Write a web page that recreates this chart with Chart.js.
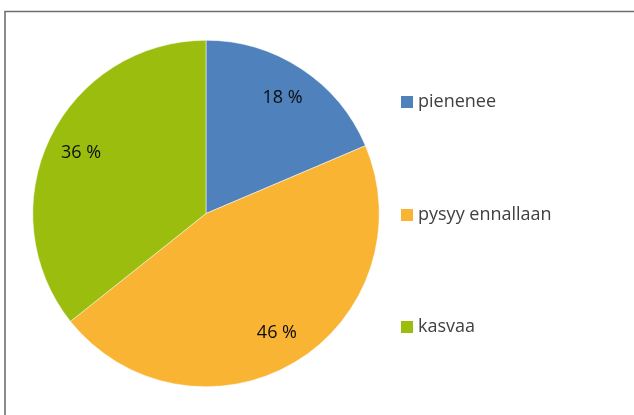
<!DOCTYPE html>
<html>
<head>
<meta charset="utf-8">
<script src="https://cdn.jsdelivr.net/npm/chart.js@4/dist/chart.umd.min.js"></script>
<style>
html,body{margin:0;padding:0;background:#fff;}
#wrap{position:relative;width:634px;height:415px;}
</style>
</head>
<body>
<div id="wrap"><canvas id="c" width="634" height="415"></canvas></div>
<script>
const categories = ['pienenee', 'pysyy ennallaan', 'kasvaa'];
const values = [18.6, 45.7, 35.7];
// data labels as printed on the chart
const valueLabels = ['18 %', '46 %', '36 %'];
const colors = ['#4F81BD', '#F9B434', '#9BBE0E'];

const FONT = '"Open Sans", "DejaVu Sans", sans-serif';

const decor = {
  id: 'decor',
  beforeDraw(chart) {
    const ctx = chart.ctx;
    ctx.save();
    ctx.strokeStyle = '#6e6e6e';
    ctx.lineWidth = 1.6;
    ctx.beginPath();
    ctx.moveTo(5, 415);
    ctx.lineTo(5, 11.5);
    ctx.lineTo(634, 11.5);
    ctx.stroke();
    ctx.restore();
  },
  afterDraw(chart) {
    const ctx = chart.ctx;
    const meta = chart.getDatasetMeta(0);
    ctx.save();
    ctx.font = '18px ' + FONT;
    ctx.fillStyle = '#0d0d0d';
    ctx.textAlign = 'center';
    ctx.textBaseline = 'middle';
    meta.data.forEach((arc, i) => {
      const p = arc.getProps(['x','y','startAngle','endAngle','outerRadius'], true);
      const mid = (p.startAngle + p.endAngle) / 2;
      const r = p.outerRadius * 0.80;
      ctx.fillText(valueLabels[i], p.x + Math.cos(mid) * r, p.y + Math.sin(mid) * r);
    });
    // legend
    const lx = 401, rows = [102, 215, 327];
    ctx.textAlign = 'left';
    categories.forEach((c, i) => {
      ctx.fillStyle = colors[i];
      ctx.fillRect(lx, rows[i] - 6, 12, 12);
      ctx.fillStyle = '#404040';
      ctx.font = '18px ' + FONT;
      ctx.fillText(c, lx + 17, rows[i]);
    });
    ctx.restore();
  }
};

new Chart(document.getElementById('c'), {
  type: 'pie',
  data: {
    labels: categories,
    datasets: [{
      data: values,
      backgroundColor: colors,
      borderColor: '#ffffff',
      borderWidth: 0.5
    }]
  },
  options: {
    responsive: false,
    animation: false,
    layout: { padding: { left: 32, right: 254, top: 40, bottom: 28 } },
    plugins: {
      legend: { display: false },
      tooltip: { enabled: false }
    }
  },
  plugins: [decor]
});
</script>
</body>
</html>
